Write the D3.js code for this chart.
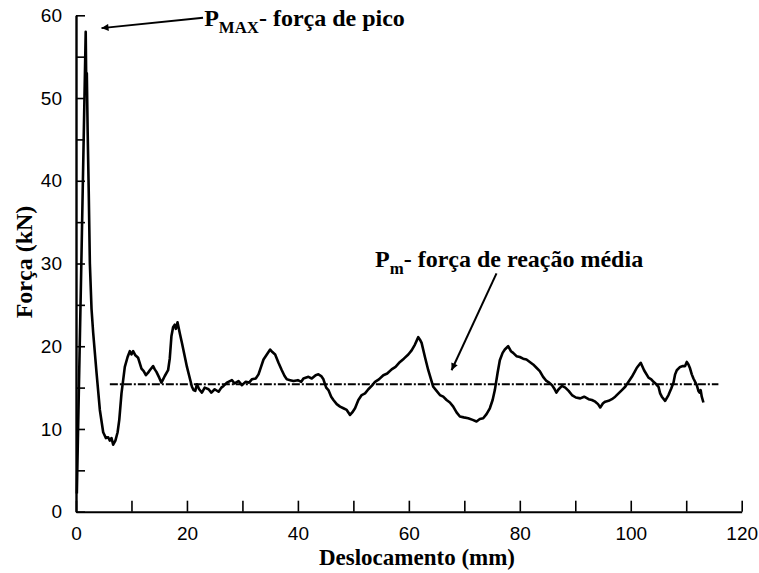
<!DOCTYPE html>
<html lang="pt">
<head>
<meta charset="utf-8">
<script src="https://cdn.jsdelivr.net/npm/d3@7/dist/d3.min.js"></script>
<style>
  html, body { margin: 0; padding: 0; background: #fff; }
  svg { display: block; }
</style>
</head>
<body>
<svg id="chart" width="759" height="573"></svg>
<script>
// Curva força x deslocamento (ensaio de esmagamento)
const displacement = [
  0.15, 0.95, 1.75, 1.85, 1.95, 2.1, 2.3, 2.5, 2.8, 3.1, 3.7, 4.3, 4.9, 5.4, 5.8, 6.1, 6.4, 6.7, 7.1, 7.5,
  7.8, 8.2, 8.8, 9.3, 9.7, 10.0, 10.3, 10.7, 11.2, 11.8, 12.2, 12.6, 13.0, 13.3, 13.9, 14.2, 14.5, 15.0, 15.4, 15.7,
  16.0, 16.6, 16.9, 17.2, 17.5, 17.8, 18.0, 18.3, 18.7, 19.1, 20.0, 20.9, 21.2, 21.5, 21.8, 22.2, 22.7, 23.2, 23.9, 24.4,
  25.0, 25.7, 26.2, 26.6, 27.2, 28.1, 28.6, 29.3, 29.9, 30.6, 31.2, 31.7, 32.4, 32.9, 33.4, 33.8, 34.4, 35.0, 35.4, 35.9,
  36.5, 37.1, 37.6, 38.0, 38.6, 39.2, 40.0, 40.6, 41.0, 41.9, 42.5, 43.2, 43.7, 44.2, 44.6, 45.1, 45.5, 46.0, 46.4, 47.0,
  47.6, 48.2, 48.8, 49.1, 49.4, 49.8, 50.3, 50.9, 51.5, 52.1, 52.7, 53.3, 53.9, 54.6, 55.4, 56.1, 56.9, 57.6, 58.4, 59.1,
  59.9, 60.5, 61.1, 61.7, 62.0, 62.3, 62.9, 63.5, 64.4, 65.0, 65.6, 66.2, 66.8, 67.4, 68.0, 68.6, 69.2, 69.9, 70.7, 71.5,
  72.2, 72.8, 73.4, 74.0, 74.6, 75.1, 75.5, 76.0, 76.4, 76.9, 77.3, 77.9, 78.4, 78.8, 79.4, 80.0, 80.6, 81.2, 81.8, 82.4,
  83.0, 83.6, 84.2, 84.8, 85.3, 85.8, 86.2, 86.6, 87.0, 87.6, 88.2, 88.8, 89.4, 90.1, 90.9, 91.6, 92.4, 93.0, 93.6, 94.1,
  94.5, 95.0, 95.4, 96.0, 96.6, 97.2, 97.8, 98.4, 99.0, 99.6, 100.2, 100.7, 101.1, 101.8, 102.4, 103.2, 103.7, 104.1, 104.6, 105.0,
  105.3, 105.6, 106.2, 106.8, 107.3, 107.7, 108.0, 108.3, 108.9, 109.4, 109.8, 110.1, 110.4, 110.7, 111.0, 111.3, 111.9, 112.2, 112.4, 112.6,
  112.8, 113.1
];
const force = [
  2.2, 29.6, 58.0, 51.5, 53.0, 46.0, 38.5, 30.0, 24.5, 21.6, 16.8, 12.3, 9.6, 8.9, 9.0, 8.6, 8.9, 8.1, 8.6, 9.6,
  11.1, 14.3, 17.5, 18.7, 19.4, 19.0, 19.4, 18.9, 18.6, 17.3, 17.0, 16.5, 16.8, 17.1, 17.6, 17.2, 16.9, 16.2, 15.6, 16.0,
  16.4, 17.1, 18.5, 21.2, 22.3, 22.6, 22.1, 22.9, 21.6, 20.4, 17.5, 15.1, 14.7, 14.6, 15.4, 14.8, 14.4, 15.0, 14.8, 14.4,
  14.8, 14.5, 15.0, 15.2, 15.6, 15.9, 15.5, 15.8, 15.3, 15.7, 15.6, 16.0, 16.1, 16.6, 17.6, 18.4, 19.0, 19.6, 19.3, 19.0,
  18.0, 17.1, 16.4, 16.0, 15.9, 15.8, 15.9, 15.7, 16.1, 16.3, 16.1, 16.5, 16.6, 16.4, 16.0, 15.0, 14.7, 13.9, 13.5, 13.0,
  12.7, 12.5, 12.3, 12.0, 11.7, 12.0, 12.5, 13.5, 14.1, 14.3, 14.8, 15.2, 15.7, 16.0, 16.5, 16.7, 17.2, 17.5, 18.1, 18.5,
  19.0, 19.5, 20.2, 21.1, 20.8, 20.4, 18.7, 17.1, 15.1, 14.6, 14.1, 13.9, 13.5, 13.2, 12.7, 12.0, 11.5, 11.4, 11.3, 11.1,
  10.9, 11.2, 11.3, 11.8, 12.5, 13.5, 14.7, 16.8, 18.3, 19.2, 19.6, 20.0, 19.4, 19.2, 18.8, 18.7, 18.5, 18.4, 18.1, 17.8,
  17.4, 17.0, 16.3, 15.8, 15.6, 15.3, 14.9, 14.4, 14.8, 15.2, 15.0, 14.6, 14.1, 13.8, 13.7, 13.9, 13.6, 13.5, 13.3, 13.0,
  12.6, 13.1, 13.3, 13.4, 13.6, 13.9, 14.3, 14.7, 15.1, 15.7, 16.3, 16.9, 17.4, 18.0, 17.1, 16.2, 16.0, 15.7, 15.4, 15.1,
  14.3, 13.9, 13.4, 14.1, 14.9, 15.6, 16.6, 17.1, 17.5, 17.6, 17.6, 18.1, 17.8, 17.3, 16.6, 16.1, 15.3, 14.6, 14.4, 14.7,
  13.9, 13.2
];

// Força média de reação (linha traço-ponto)
const meanForce = 15.4;
const meanRange = [6.1, 115.8];

// Eixos
const xTicks = [0, 10, 20, 30, 40, 50, 60, 70, 80, 90, 100, 110, 120];
const xTickLabels = ["0", "", "20", "", "40", "", "60", "", "80", "", "100", "", "120"];
const yTicks = [0, 5, 10, 15, 20, 25, 30, 35, 40, 45, 50, 55, 60];
const yTickLabels = ["0", "", "10", "", "20", "", "30", "", "40", "", "50", "", "60"];
const xTitle = "Deslocamento (mm)";
const yTitle = "Força (kN)";

// Anotações
const peakNote = { main: "P", sub: "MAX", rest: "- força de pico" };
const meanNote = { main: "P", sub: "m", rest: "- força de reação média" };

const SANS = '"Liberation Sans", Arial, Helvetica, sans-serif';
const SERIF = '"Liberation Serif", "DejaVu Serif", "Times New Roman", Times, serif';

const svg = d3.select("#chart");

const x = d3.scaleLinear().domain([0, 120]).range([76, 741.7]);
const y = d3.scaleLinear().domain([0, 60]).range([511.7, 15.3]);

// Eixo X (marcas para dentro)
const xAxis = d3.axisBottom(x)
  .tickValues(xTicks)
  .tickFormat((d, i) => xTickLabels[i])
  .tickSize(-11)
  .tickSizeOuter(0)
  .tickPadding(15);
const gx = svg.append("g").attr("transform", `translate(0,${y(0)})`).call(xAxis)
  .attr("font-family", SANS).attr("font-size", 19);
gx.select(".domain").attr("stroke", "#000").attr("stroke-width", 2);
gx.selectAll(".tick line").attr("stroke", "#000").attr("stroke-width", 1.6);
gx.selectAll(".tick text").attr("fill", "#000");

// Eixo Y
const yAxis = d3.axisLeft(y)
  .tickValues(yTicks)
  .tickFormat((d, i) => yTickLabels[i])
  .tickSize(-9)
  .tickSizeOuter(0)
  .tickPadding(14);
const gy = svg.append("g").attr("transform", `translate(${x(0)},0)`).call(yAxis)
  .attr("font-family", SANS).attr("font-size", 19);
gy.select(".domain").attr("stroke", "#000").attr("stroke-width", 2.4);
gy.selectAll(".tick line").attr("stroke", "#000").attr("stroke-width", 1.6);
gy.selectAll(".tick text").attr("fill", "#000");

// Títulos dos eixos
svg.append("text")
  .attr("font-family", SERIF).attr("font-weight", "bold")
  .attr("x", 417).attr("y", 565)
  .attr("text-anchor", "middle").attr("font-size", 23)
  .text(xTitle);
svg.append("text")
  .attr("font-family", SERIF).attr("font-weight", "bold")
  .attr("transform", "translate(32,262) rotate(-90)")
  .attr("text-anchor", "middle").attr("font-size", 24)
  .text(yTitle);

// Linha da força média
svg.append("line")
  .attr("x1", x(meanRange[0])).attr("x2", x(meanRange[1]))
  .attr("y1", y(meanForce)).attr("y2", y(meanForce))
  .attr("stroke", "#000").attr("stroke-width", 2)
  .attr("stroke-dasharray", "8,2,2,2");

// Curva força-deslocamento
const pts = displacement.map((d, i) => [d, force[i]]);
svg.append("path")
  .datum(pts)
  .attr("fill", "none")
  .attr("stroke", "#000")
  .attr("stroke-width", 2.6)
  .attr("stroke-linejoin", "round")
  .attr("d", d3.line().x(d => x(d[0])).y(d => y(d[1])));

// Ponta de seta
svg.append("defs").append("marker")
  .attr("id", "arrow")
  .attr("viewBox", "0 0 10 10")
  .attr("refX", 10).attr("refY", 5)
  .attr("markerWidth", 10).attr("markerHeight", 7)
  .attr("markerUnits", "userSpaceOnUse")
  .attr("orient", "auto")
  .append("path").attr("d", "M0,0 L10,5 L0,10 Z").attr("fill", "#000");

function note(n, px, py, size) {
  const t = svg.append("text")
    .attr("font-family", SERIF).attr("font-weight", "bold")
    .attr("x", px).attr("y", py).attr("font-size", size);
  t.append("tspan").text(n.main);
  t.append("tspan").attr("font-size", size * 0.7).attr("dy", size * 0.28).text(n.sub);
  t.append("tspan").attr("dy", -size * 0.28).text(n.rest);
}

// Pico
svg.append("line")
  .attr("x1", x(22.9)).attr("y1", y(59.7))
  .attr("x2", x(4.6)).attr("y2", y(58.45))
  .attr("stroke", "#000").attr("stroke-width", 2)
  .attr("marker-end", "url(#arrow)");
note(peakNote, x(23.1), y(58.7), 24);

// Média
svg.append("line")
  .attr("x1", x(75.8)).attr("y1", y(28.8))
  .attr("x2", x(67.7)).attr("y2", y(17.1))
  .attr("stroke", "#000").attr("stroke-width", 2)
  .attr("marker-end", "url(#arrow)");
note(meanNote, x(53.9), y(29.6), 24);
</script>
</body>
</html>
